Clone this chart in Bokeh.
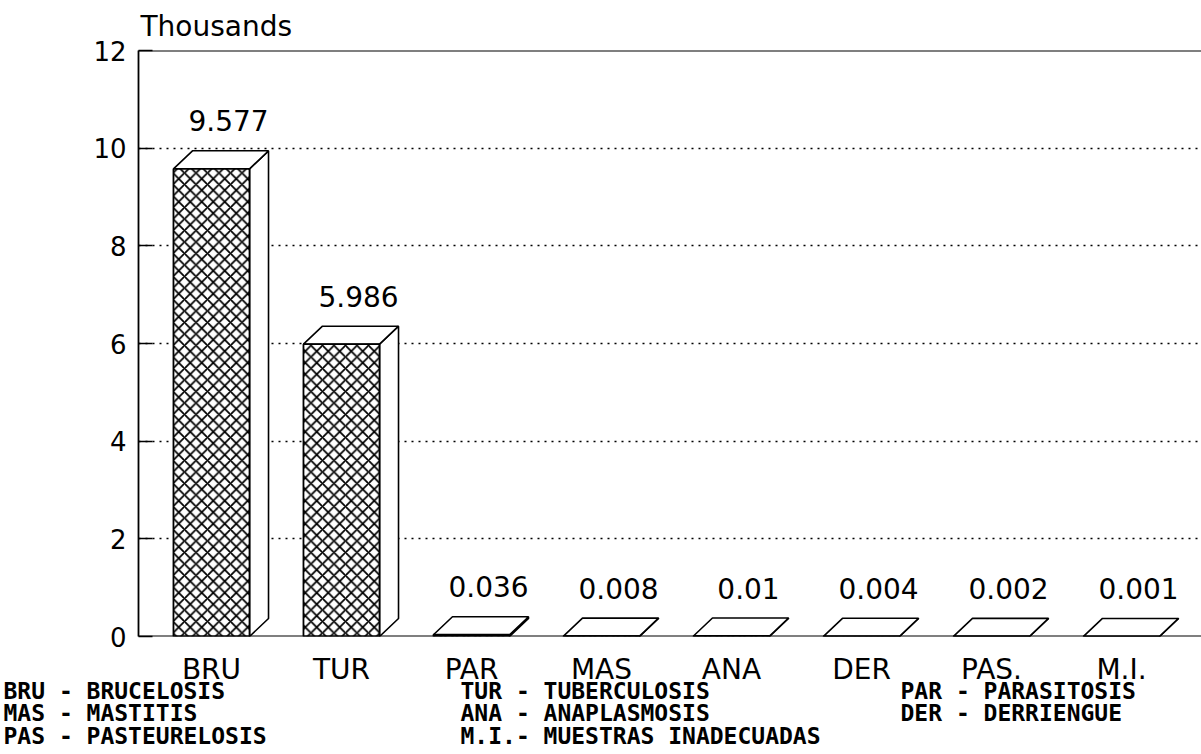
from bokeh.plotting import figure
from bokeh.models import FixedTicker, Span, Title, ColumnDataSource, Range1d
from bokeh.core.properties import value
from bokeh.embed import file_html
from bokeh.resources import INLINE

# ---- data ----
categories = ["BRU", "TUR", "PAR", "MAS", "ANA", "DER", "PAS.", "M.I."]
values = [9.577, 5.986, 0.036, 0.008, 0.01, 0.004, 0.002, 0.001]
value_labels = ["9.577", "5.986", "0.036", "0.008", "0.01", "0.004", "0.002", "0.001"]
y_ticks = [0, 2, 4, 6, 8, 10, 12]
grid_ticks = [2, 4, 6, 8, 10]
legend_codes = ["BRU", "TUR", "PAR", "MAS", "ANA", "DER", "PAS", "M.I."]
legend_names = ["BRUCELOSIS", "TUBERCULOSIS", "PARASITOSIS", "MASTITIS",
                "ANAPLASMOSIS", "DERRIENGUE", "PASTEURELOSIS", "MUESTRAS INADECUADAS"]
unit_label = "Thousands"

# ---- layout constants (page pixels) ----
W = 1201
H_TOTAL = 754
BL, BT = 138, 50
FRAME_BOTTOM = 636
H1 = 652
H2 = H_TOTAL - H1
PX_X = 130.0
Y_MAX = 12
PX_Y = (FRAME_BOTTOM - BT) / Y_MAX
X0 = -0.5615
X1 = X0 + (W - BL) / PX_X
BAR_W = 0.585
DX = 19 / PX_X
DY = 18 / PX_Y

FONT = "DejaVu Sans"
MONO = "DejaVu Sans Mono"

# ---------------- main chart ----------------
p = figure(width=W, height=H1, output_backend="svg", toolbar_location=None,
           x_range=Range1d(X0, X1), y_range=Range1d(0, Y_MAX),
           min_border_left=BL, min_border_right=0, min_border_top=BT,
           min_border_bottom=H1 - FRAME_BOTTOM, background_fill_color="white",
           border_fill_color="white")
p.outline_line_color = None
p.xgrid.visible = False
p.xaxis.visible = False

p.add_layout(Title(text=unit_label, align="left", offset=2, standoff=15,
                   text_font=FONT, text_font_size="28px", text_font_style="normal",
                   text_color="black"), "above")

p.yaxis.ticker = FixedTicker(ticks=y_ticks)
p.yaxis.axis_line_color = "black"
p.yaxis.axis_line_width = 1.8
p.yaxis.major_tick_in = 14
p.yaxis.major_tick_out = 0
p.yaxis.major_tick_line_color = "black"
p.yaxis.major_tick_line_width = 1.5
p.yaxis.minor_tick_line_color = None
p.yaxis.major_label_text_font = FONT
p.yaxis.major_label_text_font_size = "26px"
p.yaxis.major_label_text_color = "black"
p.yaxis.major_label_standoff = 12

p.ygrid.ticker = FixedTicker(ticks=grid_ticks)
p.ygrid.grid_line_color = "black"
p.ygrid.grid_line_dash = "2 5"
p.ygrid.grid_line_width = 1.4

p.add_layout(Span(location=Y_MAX, dimension="width", line_color="black", line_width=2.2))
p.add_layout(Span(location=0, dimension="width", line_color="black", line_width=2.2))

xs_idx = list(range(len(values)))
side_xs, side_ys, top_xs, top_ys = [], [], [], []
for i, v in zip(xs_idx, values):
    r = i + BAR_W / 2
    l = i - BAR_W / 2
    side_xs.append([r, r + DX, r + DX, r])
    side_ys.append([0, DY, v + DY, v])
    top_xs.append([l, l + DX, r + DX, r])
    top_ys.append([v, v + DY, v + DY, v])

p.patches(side_xs, side_ys, fill_color="white", line_color="black", line_width=1.6)
p.patches(top_xs, top_ys, fill_color="white", line_color="black", line_width=1.6)

src = ColumnDataSource(dict(x=xs_idx, top=values, lab=value_labels))
p.vbar(x="x", top="top", bottom=0, width=BAR_W, source=src,
       fill_color="white", line_color="black", line_width=1.8,
       hatch_pattern="x", hatch_scale=11.5, hatch_weight=1.8, hatch_color="black")

p.text(x="x", y="top", text="lab", source=src, x_offset=17, y_offset=-48,
       text_align="center", text_baseline="middle",
       text_font=value(FONT), text_font_size="28px", text_color="black")

# ---------------- category labels + legend strip ----------------
q = figure(width=W, height=H2, output_backend="svg", toolbar_location=None,
           x_range=Range1d(X0 - BL / PX_X, X1), y_range=Range1d(H2, 0),
           min_border_left=0, min_border_right=0, min_border_top=0,
           min_border_bottom=0, background_fill_color="white",
           border_fill_color="white")
q.outline_line_color = None
q.axis.visible = False
q.grid.visible = False


def qx(page_x):
    return X0 + (page_x - BL) / PX_X


def qy(page_y):
    return page_y - H1


q.text(x=xs_idx, y=[qy(669)] * len(categories), text=categories,
       text_align="center", text_baseline="middle",
       text_font=value(FONT), text_font_size="28px", text_color="black")

col_x = [3, 460, 900]
row_y = [690, 712.5, 735]
leg_x, leg_y, leg_t = [], [], []
for k, (code, name) in enumerate(zip(legend_codes, legend_names)):
    r, c = divmod(k, 3)
    leg_x.append(qx(col_x[c]))
    leg_y.append(qy(row_y[r]))
    leg_t.append(f"{code:<4}- {name}")

q.text(x=leg_x, y=leg_y, text=leg_t, text_align="left", text_baseline="middle",
       text_font=value(MONO), text_font_style="bold", text_font_size="23px",
       text_color="black")

open("out.html", "w").write(file_html([p, q], INLINE))
